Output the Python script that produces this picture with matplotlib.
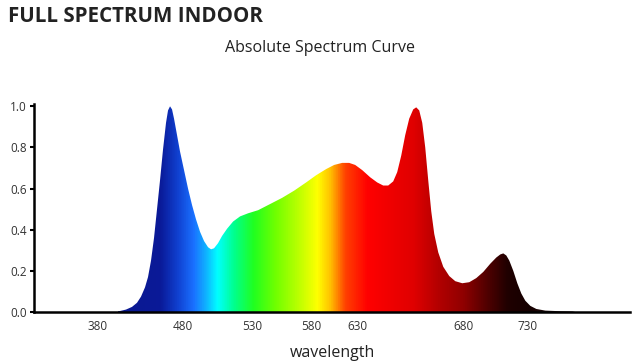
import numpy as np
import matplotlib
matplotlib.use("Agg")
import matplotlib.pyplot as plt
from matplotlib.colors import LinearSegmentedColormap
from matplotlib.patches import Polygon

# -------- Data (positions along the axis, relative intensity)
pos = [112, 120, 126, 132, 137, 141, 145, 148, 151, 154, 157, 160, 163, 166,
       168, 170, 172, 174, 177, 180, 184, 188, 192, 196, 200, 204, 208, 211,
       214, 218, 222, 227, 233, 240, 248, 258, 270, 282, 294, 306, 316, 326,
       334, 342, 349, 355, 362, 370, 377, 383, 388, 393, 397, 401, 405, 409,
       413, 416, 419, 422, 425, 428, 431, 434, 438, 443, 449, 455, 462, 469,
       476, 483, 490, 496, 500, 503, 506, 509, 513, 517, 521, 525, 530, 536,
       545, 560, 572, 575]
intensity = [0.000, 0.005, 0.012, 0.025, 0.045, 0.075, 0.12, 0.17, 0.25, 0.36,
             0.50, 0.64, 0.79, 0.92, 0.98, 1.00, 0.985, 0.94, 0.86, 0.78, 0.69,
             0.60, 0.52, 0.45, 0.39, 0.345, 0.315, 0.305, 0.31, 0.335, 0.37,
             0.405, 0.44, 0.465, 0.48, 0.495, 0.525, 0.555, 0.59, 0.63, 0.665,
             0.695, 0.715, 0.725, 0.725, 0.715, 0.69, 0.655, 0.63, 0.615, 0.615,
             0.635, 0.68, 0.76, 0.86, 0.94, 0.985, 0.995, 0.98, 0.92, 0.80,
             0.64, 0.49, 0.38, 0.29, 0.22, 0.175, 0.15, 0.14, 0.145, 0.165,
             0.195, 0.235, 0.265, 0.28, 0.285, 0.275, 0.25, 0.20, 0.14, 0.09,
             0.055, 0.03, 0.015, 0.007, 0.004, 0.003, 0.0]

tick_pos = [98, 183, 252, 311, 357, 463, 527]
tick_labels = ["380", "480", "530", "580", "630", "680", "730"]

# spectrum colours along the axis (position, colour)
grad_pos = [118, 160, 177, 193, 205, 217, 233, 253, 275, 297, 317, 330, 345,
            367, 413, 440, 463, 487, 507, 530, 575]
grad_cols = ["#0a1890", "#0a1a98", "#1040d0", "#1a70ff", "#10b0ff", "#00ffff",
             "#00ff90", "#20ff20", "#70ff00", "#b8ff00", "#ffff00", "#ffc000",
             "#ff4000", "#ff0000", "#e00000", "#b00000", "#900000", "#500000",
             "#200000", "#150000", "#302020"]

fig = plt.figure(figsize=(6.4, 3.62), dpi=100)
fig.text(0.013, 0.955, "FULL SPECTRUM INDOOR", fontsize=14.8, fontweight="bold",
         family="Open Sans", color="#222222", va="center", ha="left")
fig.text(0.50, 0.868, "Absolute Spectrum Curve", fontsize=11.5,
         family="Open Sans", color="#222222", va="center", ha="center")

ax = fig.add_axes([0.053, 0.138, 0.932, 0.574])
ax.set_xlim(34, 630)
ax.set_ylim(0, 1.01)

g0, g1 = grad_pos[0], grad_pos[-1]
stops = [((p - g0) / (g1 - g0), c) for p, c in zip(grad_pos, grad_cols)]
cmap = LinearSegmentedColormap.from_list("spec", stops)
x = np.array(pos, dtype=float)
y = np.array(intensity)
grad = np.linspace(0, 1, 512).reshape(1, -1)
im = ax.imshow(grad, cmap=cmap, aspect="auto", extent=(g0, g1, 0, 1.01),
               interpolation="bilinear", zorder=2)
verts = np.column_stack([np.r_[x, x[::-1]], np.r_[y, np.zeros_like(y)]])
poly = Polygon(verts, closed=True, facecolor="none", edgecolor="none",
               transform=ax.transData)
ax.add_patch(poly)
im.set_clip_path(poly)
# left foot before the gradient starts
ax.fill_between(x[x <= g0 + 1], y[x <= g0 + 1], color="#0a1890", lw=0, zorder=1)

for s in ["top", "right"]:
    ax.spines[s].set_visible(False)
ax.spines["left"].set_linewidth(1.8)
ax.spines["bottom"].set_linewidth(1.8)
ax.spines["left"].set_zorder(5)
ax.spines["bottom"].set_zorder(5)

ax.set_yticks([0.0, 0.2, 0.4, 0.6, 0.8, 1.0])
ax.set_yticklabels(["0.0", "0.2", "0.4", "0.6", "0.8", "1.0"])
ax.set_xticks(tick_pos)
ax.set_xticklabels(tick_labels)
ax.tick_params(axis="y", length=3, width=1.5, labelsize=8.5, labelcolor="#333333",
               pad=2)
ax.tick_params(axis="x", length=0, labelsize=8.5, labelcolor="#333333", pad=6)
for lab in ax.get_xticklabels() + ax.get_yticklabels():
    lab.set_family("Open Sans")

ax.set_xlabel("wavelength", fontsize=11.5, family="Open Sans", color="#222222")
ax.xaxis.set_label_coords(0.5, -0.16)

fig.savefig("out.png", dpi=100)
